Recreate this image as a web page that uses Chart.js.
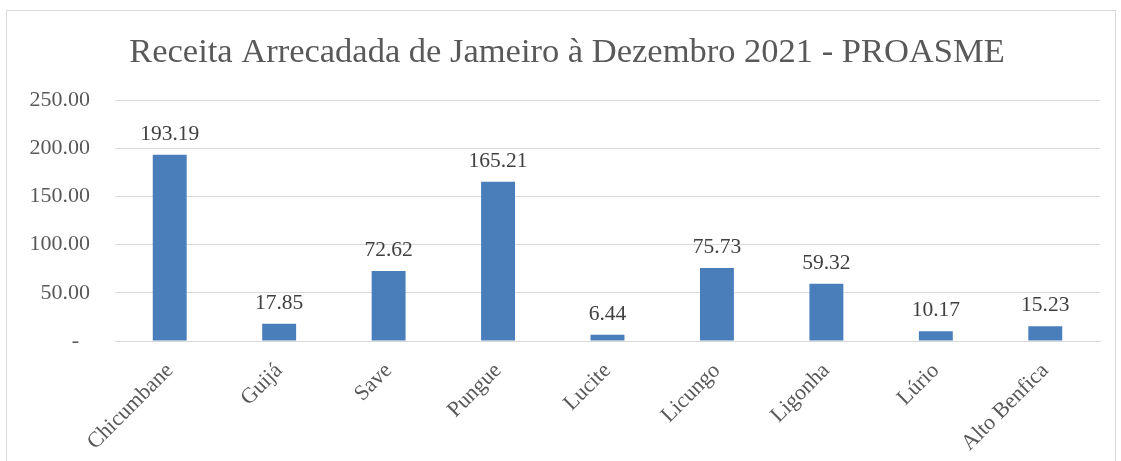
<!DOCTYPE html>
<html>
<head>
<meta charset="utf-8">
<script src="https://cdn.jsdelivr.net/npm/chart.js@4/dist/chart.umd.min.js"></script>
<style>
  html, body { margin: 0; padding: 0; background: #fff; }
  #wrap { position: relative; width: 1121px; height: 461px; overflow: hidden; }
  #frame { position: absolute; left: 6px; top: 10px; width: 1108px; height: 470px; border: 1px solid #d9d9d9; }
  canvas { position: absolute; left: 0; top: 0; }
</style>
</head>
<body>
<div id="wrap">
  <div id="frame"></div>
  <canvas id="chart" width="1121" height="461"></canvas>
</div>
<script>
const categories = ["Chicumbane", "Guijá", "Save", "Pungue", "Lucite", "Licungo", "Ligonha", "Lúrio", "Alto Benfica"];
const receita = [193.19, 17.85, 72.62, 165.21, 6.44, 75.73, 59.32, 10.17, 15.23];
const yTicks = [0, 50, 100, 150, 200, 250];
const titulo = "Receita Arrecadada de Jameiro à Dezembro 2021 - PROASME";

const serif = "'Liberation Serif', 'Times New Roman', serif";

// titulo centrado na moldura, desenhado à mão
const chartTitle = {
  id: "chartTitle",
  afterDraw(chart) {
    const ctx = chart.ctx;
    ctx.save();
    ctx.font = "34.5px " + serif;
    ctx.fillStyle = "#595959";
    ctx.textAlign = "center";
    ctx.textBaseline = "alphabetic";
    ctx.fillText(titulo, 567, 62);
    ctx.restore();
  }
};

// etiquetas de valor por cima das barras
const valueLabels = {
  id: "valueLabels",
  afterDatasetsDraw(chart) {
    const ctx = chart.ctx;
    const meta = chart.getDatasetMeta(0);
    ctx.save();
    ctx.font = "21.5px " + serif;
    ctx.fillStyle = "#404040";
    ctx.textAlign = "center";
    ctx.textBaseline = "alphabetic";
    meta.data.forEach((bar, i) => {
      ctx.fillText(receita[i].toFixed(2), bar.x, bar.y - 15);
    });
    ctx.restore();
  }
};

new Chart(document.getElementById("chart"), {
  type: "bar",
  data: {
    labels: categories,
    datasets: [{
      data: receita,
      backgroundColor: "#4a7ebb",
      borderWidth: 0,
      barPercentage: 0.31,
      categoryPercentage: 1
    }]
  },
  options: {
    responsive: false,
    animation: false,
    layout: { padding: { left: 7, right: 21, top: 100, bottom: 0 } },
    plugins: {
      legend: { display: false },
      tooltip: { enabled: false },
      title: { display: false }
    },
    scales: {
      x: {
        grid: { display: false, drawTicks: false },
        border: { display: true, color: "#d9d9d9", width: 1 },
        ticks: {
          color: "#595959",
          font: { family: serif, size: 22 },
          minRotation: 45,
          maxRotation: 45,
          padding: 17
        },
        afterFit(scale) { scale.height = 120; }
      },
      y: {
        min: 0,
        max: 250,
        grid: { color: "#d9d9d9", drawTicks: false },
        border: { display: false },
        afterBuildTicks(scale) { scale.ticks = yTicks.map(v => ({ value: v })); },
        ticks: {
          color: "#595959",
          font: { family: serif, size: 22 },
          padding: 25,
          callback: v => v === 0 ? "-  " : v.toFixed(2)
        },
        afterFit(scale) { scale.width = 108; }
      }
    }
  },
  plugins: [valueLabels, chartTitle]
});
</script>
</body>
</html>
